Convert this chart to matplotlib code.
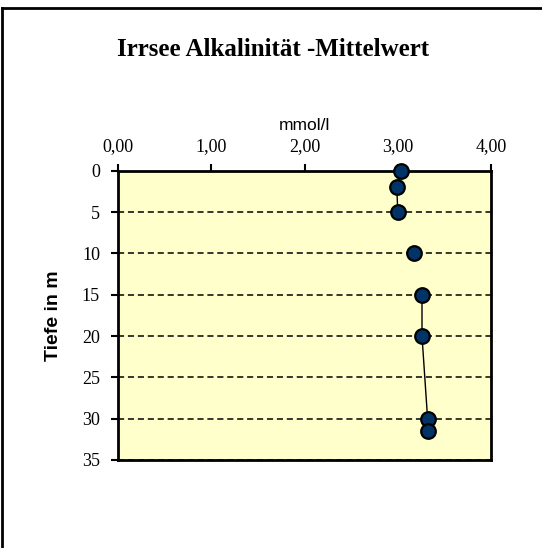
import matplotlib
matplotlib.use("Agg")
import matplotlib.pyplot as plt
import numpy as np
from matplotlib.lines import Line2D

# depth profile, gaps (None) break the line like in the source sheet
tiefe = [0, 2, 5, 7.5, 10, 12.5, 15, 20, 30, 31.5]
alkalinitaet = [3.04, 2.99, 3.00, None, 3.17, None, 3.26, 3.26, 3.32, 3.32]
x_ticks = [0, 1, 2, 3, 4]
x_ticklabels = ["0,00", "1,00", "2,00", "3,00", "4,00"]
y_ticks = [0, 5, 10, 15, 20, 25, 30, 35]

alk = np.array([np.nan if v is None else v for v in alkalinitaet])

fig = plt.figure(figsize=(5.42, 5.48), dpi=100)
ax = fig.add_axes([118 / 542, 1 - 460 / 548, 373 / 542, 289.3 / 548])
ax.set_facecolor("#ffffcc")

for d in y_ticks[1:]:
    ax.axhline(d, color="black", lw=1.1, ls=(0, (4, 2.5)), zorder=1)

ax.plot(alk, tiefe, color="black", lw=1.0, marker="o", ms=10.5,
        mfc="#003366", mec="black", mew=1.6, zorder=3, clip_on=False)

ax.set_xlim(0, 4)
ax.set_ylim(35, 0)
ax.xaxis.tick_top()
ax.set_xticks(x_ticks)
ax.set_xticklabels(x_ticklabels, fontfamily="Liberation Serif", fontsize=13)
ax.set_yticks(y_ticks)
ax.set_yticklabels([str(t) for t in y_ticks], fontfamily="Liberation Serif", fontsize=13)
ax.tick_params(axis="x", direction="out", length=5, width=1.5, pad=6)
ax.tick_params(axis="y", direction="out", length=5, width=1.5, pad=8)
for s in ax.spines.values():
    s.set_linewidth(2)

ax.set_xlabel("mmol/l", fontfamily="Liberation Sans", fontsize=12.5, labelpad=6)
ax.xaxis.set_label_position("top")
ax.set_ylabel("Tiefe in m", fontfamily="Liberation Sans", fontsize=14,
              fontweight="bold", labelpad=14)

fig.text(273 / 542, 1 - 56 / 548, "Irrsee Alkalinität -Mittelwert",
         ha="center", va="baseline", fontfamily="Liberation Serif",
         fontsize=18, fontweight="bold")

# outer chart frame (only left and top edge show in the crop)
fig.add_artist(Line2D([2 / 542, 2 / 542], [0, 1 - 8 / 548], color="black", lw=2))
fig.add_artist(Line2D([2 / 542, 1], [1 - 8 / 548, 1 - 8 / 548], color="black", lw=2))

fig.savefig("out.png", dpi=100)
